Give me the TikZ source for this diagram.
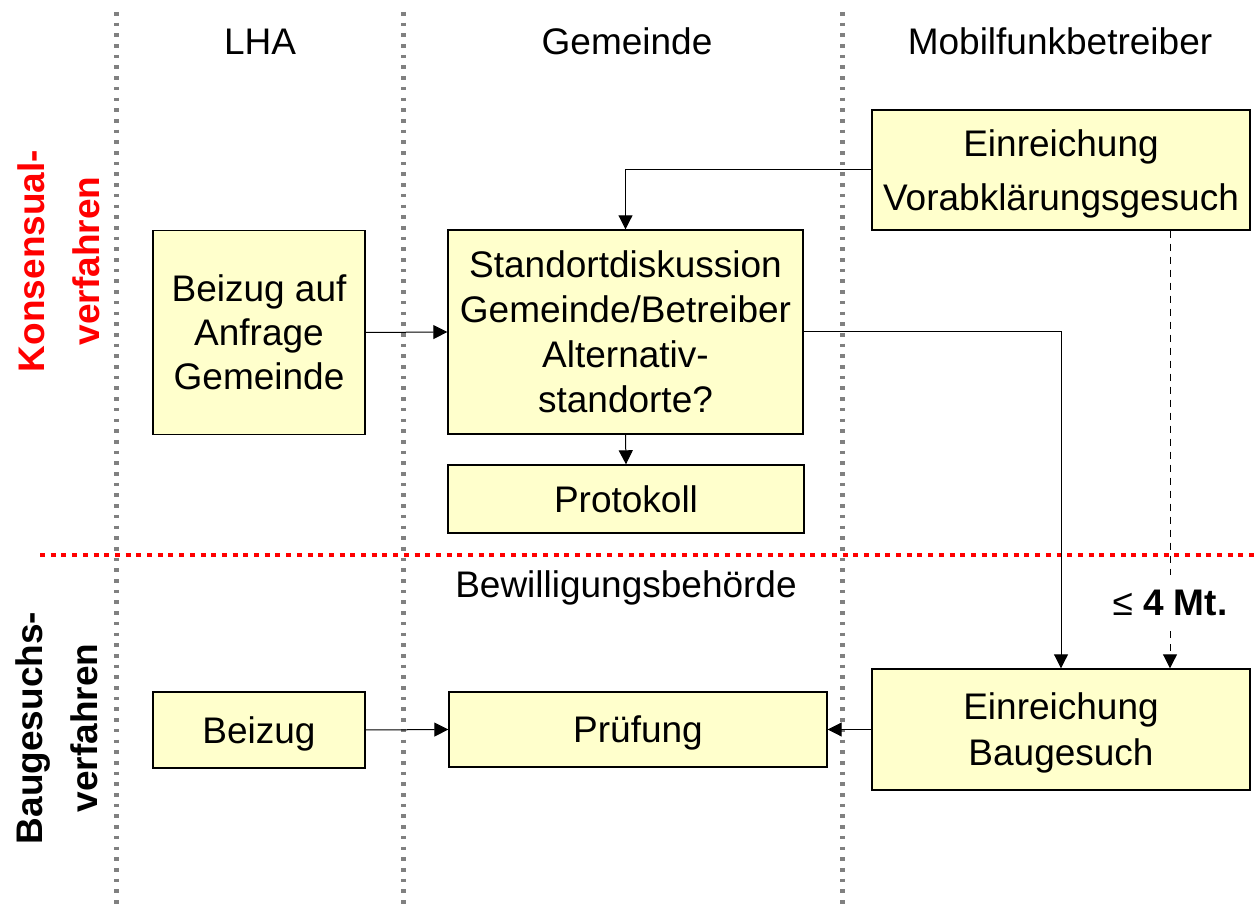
\documentclass[tikz,border=0pt]{standalone}
\usepackage{fontspec}
\setmainfont{Liberation Sans}
\usetikzlibrary{arrows.meta}
\definecolor{boxfill}{HTML}{FFFFCC}
\definecolor{sepgray}{HTML}{808080}
\begin{document}
\begin{tikzpicture}[x=0.5pt,y=-0.5pt,
  box/.style={draw=black, line width=0.7pt, fill=boxfill, inner sep=0pt, align=center,
    font=\fontsize{18.5pt}{22.5pt}\selectfont, text depth=0pt},
  oneline/.style={text height=13.2pt},
  hdr/.style={font=\fontsize{18.5pt}{22.5pt}\selectfont, inner sep=0pt},
  rot/.style={rotate=90, align=center, inner sep=0pt, text depth=0pt,
    font=\bfseries\fontsize{18.5pt}{27.5pt}\selectfont},
  conn/.style={line width=0.5pt, -{Triangle[length=7pt,width=7pt]}},
  dashconn/.style={line width=0.5pt, dash pattern=on 3.5pt off 3pt},
  sep/.style={draw=sepgray, line width=2.5pt, dash pattern=on 1.8pt off 3.55pt},
  redsep/.style={draw=red, line width=2pt, dash pattern=on 2.5pt off 2.85pt}]
\useasboundingbox (0,0) rectangle (1258,908);
% separators
\draw[redsep] (40,555) -- (1258,555);
\draw[sep] (116,12) -- (116,906);
\draw[sep] (403,12) -- (403,906);
\draw[sep] (842,12) -- (842,906);
% headers
\node[hdr, anchor=base] (hlha) at (260,55) {LHA};
\node[hdr, anchor=base] (hgem) at (627,55) {Gemeinde};
\node[hdr, anchor=base] (hmob) at (1060,55) {Mobilfunkbetreiber};
\node[hdr, anchor=base] (hbew) at (626,597) {Bewilligungsbehörde};
% side labels
\node[rot, text=red] (kons) at (59,261) {Konsensual-\\verfahren};
\node[rot] (baug) at (57,728) {Baugesuchs-\\verfahren};
% boxes
\node[box, minimum width=189pt, minimum height=60pt, font=\fontsize{18.5pt}{27pt}\selectfont] (vorab) at (1061,170) {Einreichung\\Vorabklärungsgesuch};
\node[box, minimum width=106pt, minimum height=102pt, font=\fontsize{18.5pt}{22pt}\selectfont] (beizA) at (259,332.5) {Beizug auf\\Anfrage\\Gemeinde};
\node[box, minimum width=177.5pt, minimum height=102pt] (stand) at (625.5,332) {Standortdiskussion\\Gemeinde/Betreiber\\Alternativ-\\standorte?};
\node[box, oneline, minimum width=178pt, minimum height=34pt] (proto) at (626,499) {Protokoll};
\node[box, oneline, minimum width=106pt, minimum height=38pt] (beiz) at (259,730) {Beizug};
\node[box, oneline, minimum width=189pt, minimum height=37.5pt] (pruef) at (638,729.5) {Prüfung};
\node[box, minimum width=189pt, minimum height=60.5pt, font=\fontsize{18.5pt}{23pt}\selectfont] (baus) at (1061,729.5) {Einreichung\\Baugesuch};
% label
\node[anchor=base, inner xsep=1pt, inner ysep=7.5pt, text depth=0pt, font=\fontsize{18.5pt}{22.5pt}\selectfont] (lbl) at (1170,616) {≤ \textbf{4 Mt.}};
% connectors
\draw[conn] (vorab.west) -| (stand.north);
\draw[conn] (beizA.east) -- (stand.west);
\draw[conn] (stand.south) -- (proto.north);
\draw[conn] (stand.east) -| (baus.north);
\draw[dashconn] (vorab.south -| lbl) -- (lbl.north);
\draw[conn, dashconn] (lbl.south) -- (baus.north -| lbl);
\draw[conn] (baus.west) -- (pruef.east);
\draw[conn] (beiz.east) -- (pruef.west);
\end{tikzpicture}
\end{document}
